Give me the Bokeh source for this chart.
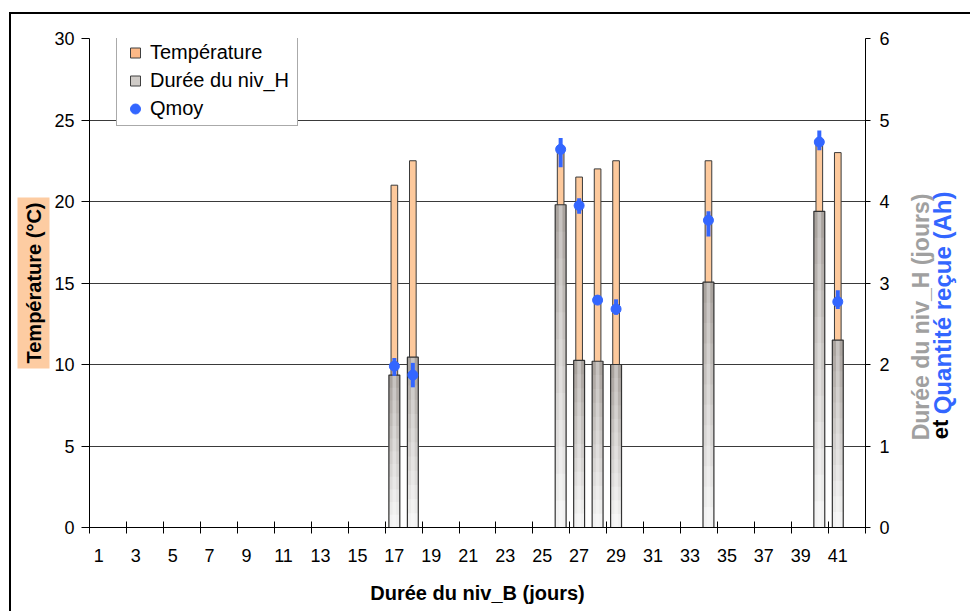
import numpy as np
from bokeh.plotting import figure
from bokeh.models import (Range1d, LinearAxis, FixedTicker, Legend,
                          LegendItem, ColumnDataSource, Title)
from bokeh.embed import file_html
from bokeh.resources import INLINE

# ---------------- data ----------------
days = [17, 18, 26, 27, 28, 29, 34, 40, 41]                       # Durée du niv_B (jours)
temperature = [21.0, 22.5, 23.2, 21.5, 22.0, 22.5, 22.5, 23.6, 23.0]  # °C (left axis)
duree_niv_h = [1.87, 2.09, 3.96, 2.05, 2.04, 2.00, 3.01, 3.88, 2.30]  # jours (right axis)
qmoy = [1.98, 1.87, 4.64, 3.95, 2.79, 2.68, 3.77, 4.73, 2.77]         # Ah (right axis)
qmoy_low = [1.86, 1.72, 4.42, 3.85, 2.76, 2.61, 3.57, 4.63, 2.68]
qmoy_high = [2.08, 2.02, 4.78, 4.04, 2.82, 2.80, 3.88, 4.87, 2.91]
x_categories = list(range(1, 43))
x_label_values = list(range(1, 42, 2))
x_labels = [str(v) for v in x_label_values]
left_ticks = [0, 5, 10, 15, 20, 25, 30]
right_ticks = [0, 1, 2, 3, 4, 5, 6]

FONT = "Liberation Sans"
BLUE = "#3366FF"
ORANGE = "#FDC99C"
GRAY_TXT = "#A0A0A0"

p = figure(width=961, height=599, output_backend="svg", toolbar_location=None,
           x_range=Range1d(x_categories[0] - 0.5, x_categories[-1] + 0.5),
           y_range=Range1d(left_ticks[0], left_ticks[-1]),
           x_axis_type=None,
           min_border_left=78, min_border_right=101, min_border_top=24,
           min_border_bottom=86,
           styles={"margin-left": "9px", "margin-top": "12px",
                   "border-left": "2px solid black",
                   "border-top": "2px solid black"})
p.extra_y_ranges = {"right": Range1d(right_ticks[0], right_ticks[-1])}
p.outline_line_color = None
p.background_fill_color = "white"
p.border_fill_color = "white"

# grid
p.ygrid.ticker = FixedTicker(ticks=left_ticks)
p.ygrid.grid_line_color = "#3a3a3a"
p.ygrid.grid_line_width = 1

# left axis
ya = p.yaxis[0]
ya.ticker = FixedTicker(ticks=left_ticks)
ya.major_tick_out = 8
ya.major_tick_in = 0
ya.minor_tick_line_color = None
ya.major_label_standoff = 7
ya.major_label_text_font = FONT
ya.major_label_text_font_size = "18px"
ya.major_label_text_color = "black"
ya.axis_line_color = "black"
ya.major_tick_line_color = "black"

# left title with tinted background
t_left = Title(text="Température (°C)", align="center", text_font=FONT,
               text_font_size="20px", text_font_style="bold",
               text_color="black", background_fill_color="#FDCCA2",
               standoff=4)
try:
    t_left.padding = 5
except Exception:
    pass
p.add_layout(t_left, "left")

# right axis (ticks)
ra = LinearAxis(y_range_name="right", ticker=FixedTicker(ticks=right_ticks))
ra.major_tick_out = 5
ra.major_tick_in = 0
ra.minor_tick_line_color = None
ra.major_label_standoff = 9
ra.major_label_text_font = FONT
ra.major_label_text_font_size = "18px"
ra.major_label_text_color = "black"
ra.axis_line_color = "black"
p.add_layout(ra, "right")


def title_axis(pos, text, color, size, standoff):
    ax = LinearAxis(y_range_name="right", ticker=FixedTicker(ticks=[pos]))
    ax.major_label_overrides = {pos: text}
    ax.major_label_orientation = np.pi / 2
    try:
        ax.major_label_standoff = standoff
    except Exception:
        ax.major_label_standoff = 0
    ax.major_label_text_font = FONT
    ax.major_label_text_font_size = size
    ax.major_label_text_font_style = "bold"
    ax.major_label_text_color = color
    ax.axis_line_color = None
    ax.major_tick_line_color = None
    ax.minor_tick_line_color = None
    ax.major_tick_in = 0
    ax.major_tick_out = 0
    return ax


# right titles (rotated, reading bottom to top), anchored at their start
p.add_layout(title_axis(1.07, "Durée du niv_H (jours)", GRAY_TXT, "23px", 29), "right")
p.add_layout(title_axis(1.389, "Quantité reçue (Ah)", BLUE, "24px", -8), "right")
p.add_layout(title_axis(1.083, "et", "black", "22px", -32), "right")

# bottom axis 1: tick marks at every second category boundary (no labels)
boundaries = [c - 0.5 for c in x_categories[::2]] + [x_categories[-1] + 0.5]
xb = LinearAxis(ticker=FixedTicker(ticks=boundaries))
xb.major_tick_in = 6
xb.major_tick_out = 6
xb.major_tick_line_color = "black"
xb.major_tick_line_width = 1
xb.minor_tick_line_color = None
xb.major_label_text_font_size = "0px"
xb.major_label_standoff = 0
xb.axis_line_color = "black"
p.add_layout(xb, "below")

# bottom axis 2: labels at category centres + title
xl = LinearAxis(ticker=FixedTicker(ticks=x_label_values),
                axis_label="Durée du niv_B (jours)")
xl.major_label_overrides = {v: s for v, s in zip(x_label_values, x_labels)}
xl.axis_line_color = None
xl.major_tick_line_color = None
xl.minor_tick_line_color = None
xl.major_tick_in = 0
xl.major_tick_out = 0
xl.major_label_standoff = 15
xl.major_label_text_font = FONT
xl.major_label_text_font_size = "18px"
xl.major_label_text_color = "black"
xl.axis_label_standoff = 17
xl.axis_label_text_font = FONT
xl.axis_label_text_font_size = "20px"
xl.axis_label_text_font_style = "bold"
xl.axis_label_text_color = "black"
p.add_layout(xl, "below")

src = ColumnDataSource(dict(x=days, temp=temperature, duree=duree_niv_h,
                            q=qmoy, lo=qmoy_low, hi=qmoy_high))

# Température bars (primary axis, behind)
p.vbar(x="x", top="temp", bottom=0, width=0.36, source=src,
       fill_color=ORANGE, line_color="#3a3a3a", line_width=1)

# Durée du niv_H bars (secondary axis) with a stepped vertical gradient
n_steps = 12
c_top = np.array([0xA9, 0xA3, 0x9E])
c_bot = np.array([0xF2, 0xF2, 0xF2])
for k in range(n_steps):
    frac = 1 - k / n_steps
    col = c_top + (c_bot - c_top) * (k / (n_steps - 1))
    hexcol = "#%02x%02x%02x" % tuple(int(round(c)) for c in col)
    p.vbar(x=days, top=[d * frac for d in duree_niv_h], bottom=0, width=0.59,
           fill_color=hexcol, line_color=None, y_range_name="right")
p.vbar(x=days, top=duree_niv_h, bottom=0, width=0.2, fill_color="white",
       fill_alpha=0.35, line_color=None, y_range_name="right")
p.vbar(x="x", top="duree", bottom=0, width=0.59, source=src, fill_alpha=0,
       line_color="#333333", line_width=1.2, y_range_name="right")

# Qmoy with error bars
p.segment(x0="x", y0="lo", x1="x", y1="hi", source=src, line_color=BLUE,
          line_width=4, y_range_name="right")
r_q = p.scatter(x="x", y="q", source=src, marker="circle", size=10,
                fill_color=BLUE, line_color=BLUE, y_range_name="right")

# legend proxies (not drawn in the plot: NaN positions)
lg_t = p.scatter(x=[np.nan], y=[np.nan], marker="square", size=12,
                 fill_color="#FDB987", line_color="#404040", line_width=1)
lg_d = p.scatter(x=[np.nan], y=[np.nan], marker="square", size=12,
                 fill_color="#CFCBC7", line_color="#404040", line_width=1)
legend = Legend(items=[LegendItem(label="Température", renderers=[lg_t]),
                       LegendItem(label="Durée du niv_H", renderers=[lg_d]),
                       LegendItem(label="Qmoy", renderers=[r_q])],
                location=(27, 401))
legend.padding = 4
legend.spacing = 3
legend.margin = 0
legend.glyph_width = 28
legend.glyph_height = 25
legend.label_height = 25
legend.label_width = 143
legend.label_standoff = 1
legend.label_text_font = FONT
legend.label_text_font_size = "20px"
legend.label_text_color = "black"
legend.border_line_color = "#555555"
legend.border_line_width = 1
legend.background_fill_color = "white"
legend.background_fill_alpha = 1
p.add_layout(legend, "center")

open("out.html", "w").write(file_html(p, INLINE))
